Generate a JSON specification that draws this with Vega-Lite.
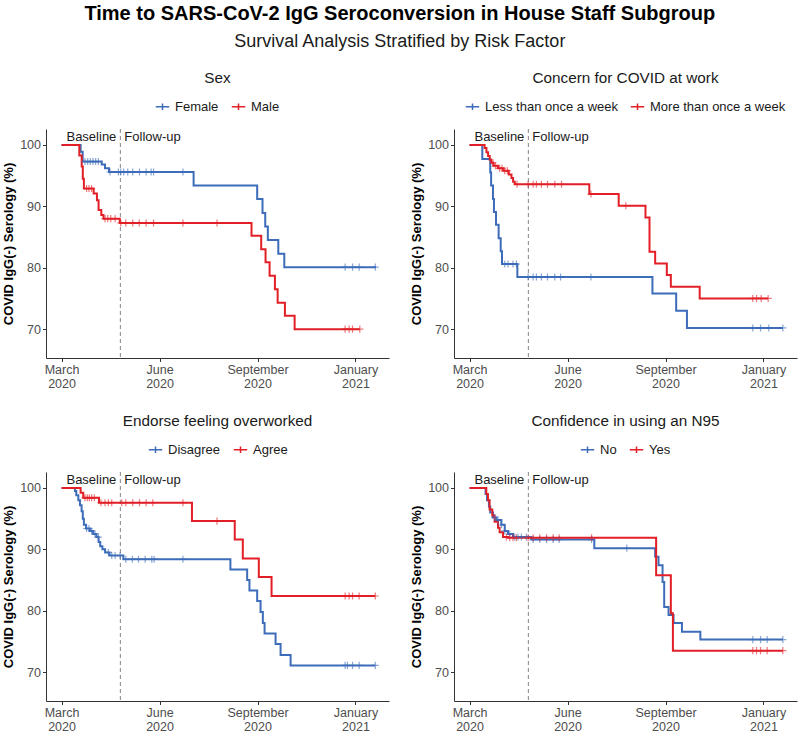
{
  "$schema": "https://vega.github.io/schema/vega-lite/v6.json",
  "background": "white",
  "padding": {"left": 2, "top": 3, "right": 2, "bottom": 0},
  "title": {
    "text": "Time to SARS-CoV-2 IgG Seroconversion in House Staff Subgroup",
    "subtitle": "Survival Analysis Stratified by Risk Factor",
    "anchor": "middle",
    "font": "Liberation Sans",
    "fontSize": 20,
    "fontWeight": "bold",
    "color": "black",
    "subtitleFont": "Liberation Sans",
    "subtitleFontSize": 18,
    "subtitleColor": "#1a1a1a",
    "subtitlePadding": 9,
    "offset": 20
  },
  "datasets": {
    "steps": [
      {"p":1,"g":"Female","d":0,"s":100},{"p":1,"g":"Female","d":17.5,"s":98.9},{"p":1,"g":"Female","d":19.4,"s":97.3},{"p":1,"g":"Female","d":36.9,"s":96.8},{"p":1,"g":"Female","d":39.9,"s":96.2},{"p":1,"g":"Female","d":43.6,"s":95.6},{"p":1,"g":"Female","d":121.3,"s":93.4},{"p":1,"g":"Female","d":179.7,"s":91.2},{"p":1,"g":"Female","d":184.6,"s":88.9},{"p":1,"g":"Female","d":187.1,"s":86.7},{"p":1,"g":"Female","d":189.5,"s":84.5},{"p":1,"g":"Female","d":199.1,"s":82.3},{"p":1,"g":"Female","d":204.6,"s":80.1},{"p":1,"g":"Female","d":288.8,"s":80.1},
      {"p":1,"g":"Male","d":0,"s":100},{"p":1,"g":"Male","d":16.3,"s":98.3},{"p":1,"g":"Male","d":18.5,"s":96.5},{"p":1,"g":"Male","d":19.5,"s":94.5},{"p":1,"g":"Male","d":20.5,"s":92.9},{"p":1,"g":"Male","d":29.5,"s":92.1},{"p":1,"g":"Male","d":32.5,"s":91.0},{"p":1,"g":"Male","d":34,"s":89.4},{"p":1,"g":"Male","d":36.5,"s":88.6},{"p":1,"g":"Male","d":38.5,"s":88.0},{"p":1,"g":"Male","d":53.5,"s":87.3},{"p":1,"g":"Male","d":174.5,"s":85.2},{"p":1,"g":"Male","d":183.4,"s":83.0},{"p":1,"g":"Male","d":187.4,"s":80.9},{"p":1,"g":"Male","d":191.1,"s":78.7},{"p":1,"g":"Male","d":196,"s":76.5},{"p":1,"g":"Male","d":198.5,"s":74.3},{"p":1,"g":"Male","d":205.2,"s":72.2},{"p":1,"g":"Male","d":214.1,"s":70.0},{"p":1,"g":"Male","d":274,"s":70.0},
      {"p":2,"g":"Less than once a week","d":0,"s":100},{"p":2,"g":"Less than once a week","d":11.7,"s":97.7},{"p":2,"g":"Less than once a week","d":19,"s":95.5},{"p":2,"g":"Less than once a week","d":19.8,"s":93.4},{"p":2,"g":"Less than once a week","d":21.5,"s":91.2},{"p":2,"g":"Less than once a week","d":22.4,"s":89.1},{"p":2,"g":"Less than once a week","d":24.3,"s":87.0},{"p":2,"g":"Less than once a week","d":26.7,"s":84.8},{"p":2,"g":"Less than once a week","d":28.6,"s":82.7},{"p":2,"g":"Less than once a week","d":29.8,"s":80.6},{"p":2,"g":"Less than once a week","d":43.9,"s":78.5},{"p":2,"g":"Less than once a week","d":168,"s":75.8},{"p":2,"g":"Less than once a week","d":189.8,"s":73.0},{"p":2,"g":"Less than once a week","d":199.7,"s":70.2},{"p":2,"g":"Less than once a week","d":287.8,"s":70.2},
      {"p":2,"g":"More than once a week","d":0,"s":100},{"p":2,"g":"More than once a week","d":13.8,"s":99.5},{"p":2,"g":"More than once a week","d":15.5,"s":98.8},{"p":2,"g":"More than once a week","d":17,"s":98.2},{"p":2,"g":"More than once a week","d":18.5,"s":97.6},{"p":2,"g":"More than once a week","d":20,"s":97.1},{"p":2,"g":"More than once a week","d":22,"s":96.6},{"p":2,"g":"More than once a week","d":26,"s":96.2},{"p":2,"g":"More than once a week","d":31,"s":95.8},{"p":2,"g":"More than once a week","d":36,"s":95.2},{"p":2,"g":"More than once a week","d":38.5,"s":94.6},{"p":2,"g":"More than once a week","d":40,"s":94.0},{"p":2,"g":"More than once a week","d":41.5,"s":93.6},{"p":2,"g":"More than once a week","d":110,"s":92.0},{"p":2,"g":"More than once a week","d":137,"s":90.1},{"p":2,"g":"More than once a week","d":161.6,"s":88.2},{"p":2,"g":"More than once a week","d":165.3,"s":82.6},{"p":2,"g":"More than once a week","d":170.5,"s":80.7},{"p":2,"g":"More than once a week","d":181.2,"s":78.8},{"p":2,"g":"More than once a week","d":184.9,"s":76.9},{"p":2,"g":"More than once a week","d":211.4,"s":75.0},{"p":2,"g":"More than once a week","d":274.3,"s":75.0},
      {"p":3,"g":"Disagree","d":0,"s":100},{"p":3,"g":"Disagree","d":12.3,"s":99.5},{"p":3,"g":"Disagree","d":13.5,"s":98.8},{"p":3,"g":"Disagree","d":15.4,"s":98.0},{"p":3,"g":"Disagree","d":16.9,"s":97.2},{"p":3,"g":"Disagree","d":18.4,"s":96.2},{"p":3,"g":"Disagree","d":19.5,"s":95.0},{"p":3,"g":"Disagree","d":20.5,"s":94.0},{"p":3,"g":"Disagree","d":22.5,"s":93.4},{"p":3,"g":"Disagree","d":26,"s":93.0},{"p":3,"g":"Disagree","d":29,"s":92.5},{"p":3,"g":"Disagree","d":32,"s":92.0},{"p":3,"g":"Disagree","d":34,"s":91.2},{"p":3,"g":"Disagree","d":35.5,"s":90.5},{"p":3,"g":"Disagree","d":37.5,"s":90.0},{"p":3,"g":"Disagree","d":40,"s":89.5},{"p":3,"g":"Disagree","d":44,"s":89.0},{"p":3,"g":"Disagree","d":56.8,"s":88.4},{"p":3,"g":"Disagree","d":155.1,"s":86.7},{"p":3,"g":"Disagree","d":170.5,"s":85.0},{"p":3,"g":"Disagree","d":172.6,"s":83.3},{"p":3,"g":"Disagree","d":179.7,"s":81.6},{"p":3,"g":"Disagree","d":182.8,"s":79.8},{"p":3,"g":"Disagree","d":184.9,"s":78.0},{"p":3,"g":"Disagree","d":186.5,"s":76.3},{"p":3,"g":"Disagree","d":196.6,"s":74.6},{"p":3,"g":"Disagree","d":201.2,"s":72.8},{"p":3,"g":"Disagree","d":210.4,"s":71.1},{"p":3,"g":"Disagree","d":288.2,"s":71.1},
      {"p":3,"g":"Agree","d":0,"s":100},{"p":3,"g":"Agree","d":17.5,"s":99.2},{"p":3,"g":"Agree","d":19.9,"s":98.4},{"p":3,"g":"Agree","d":34.4,"s":97.6},{"p":3,"g":"Agree","d":119.8,"s":94.6},{"p":3,"g":"Agree","d":159.1,"s":91.6},{"p":3,"g":"Agree","d":166.5,"s":88.5},{"p":3,"g":"Agree","d":181.2,"s":85.5},{"p":3,"g":"Agree","d":192.9,"s":82.4},{"p":3,"g":"Agree","d":288.2,"s":82.4},
      {"p":4,"g":"No","d":0,"s":100},{"p":4,"g":"No","d":14.7,"s":99.0},{"p":4,"g":"No","d":16,"s":98.0},{"p":4,"g":"No","d":17.8,"s":97.0},{"p":4,"g":"No","d":19,"s":96.0},{"p":4,"g":"No","d":21.5,"s":95.2},{"p":4,"g":"No","d":24.6,"s":94.8},{"p":4,"g":"No","d":29.2,"s":94.0},{"p":4,"g":"No","d":32.3,"s":93.0},{"p":4,"g":"No","d":35.3,"s":92.5},{"p":4,"g":"No","d":39.9,"s":92.0},{"p":4,"g":"No","d":56.8,"s":91.6},{"p":4,"g":"No","d":114.6,"s":90.2},{"p":4,"g":"No","d":170.5,"s":88.8},{"p":4,"g":"No","d":173.6,"s":87.4},{"p":4,"g":"No","d":177.3,"s":84.7},{"p":4,"g":"No","d":178.8,"s":80.6},{"p":4,"g":"No","d":182.8,"s":79.3},{"p":4,"g":"No","d":187.4,"s":78.0},{"p":4,"g":"No","d":195.1,"s":76.6},{"p":4,"g":"No","d":212,"s":75.3},{"p":4,"g":"No","d":287.8,"s":75.3},
      {"p":4,"g":"Yes","d":0,"s":100},{"p":4,"g":"Yes","d":15.4,"s":99.0},{"p":4,"g":"Yes","d":16.9,"s":98.0},{"p":4,"g":"Yes","d":18.4,"s":96.5},{"p":4,"g":"Yes","d":20.9,"s":95.5},{"p":4,"g":"Yes","d":23,"s":94.5},{"p":4,"g":"Yes","d":26.1,"s":93.5},{"p":4,"g":"Yes","d":27.6,"s":92.8},{"p":4,"g":"Yes","d":30.7,"s":92.0},{"p":4,"g":"Yes","d":35.3,"s":91.9},{"p":4,"g":"Yes","d":171.4,"s":85.8},{"p":4,"g":"Yes","d":184.9,"s":79.6},{"p":4,"g":"Yes","d":186.8,"s":73.5},{"p":4,"g":"Yes","d":287.8,"s":73.5}
    ],
    "cens": [
      {"p":1,"g":"Female","d":21.5,"s":97.3},{"p":1,"g":"Female","d":24,"s":97.3},{"p":1,"g":"Female","d":26.4,"s":97.3},{"p":1,"g":"Female","d":28.9,"s":97.3},{"p":1,"g":"Female","d":31.3,"s":97.3},{"p":1,"g":"Female","d":33.8,"s":97.3},{"p":1,"g":"Female","d":44.5,"s":95.6},{"p":1,"g":"Female","d":52.2,"s":95.6},{"p":1,"g":"Female","d":54.4,"s":95.6},{"p":1,"g":"Female","d":57.1,"s":95.6},{"p":1,"g":"Female","d":60.8,"s":95.6},{"p":1,"g":"Female","d":65.4,"s":95.6},{"p":1,"g":"Female","d":71.6,"s":95.6},{"p":1,"g":"Female","d":77.7,"s":95.6},{"p":1,"g":"Female","d":82.3,"s":95.6},{"p":1,"g":"Female","d":84.5,"s":95.6},{"p":1,"g":"Female","d":111.5,"s":95.6},{"p":1,"g":"Female","d":260.5,"s":80.1},{"p":1,"g":"Female","d":267.3,"s":80.1},{"p":1,"g":"Female","d":273.4,"s":80.1},{"p":1,"g":"Female","d":288.2,"s":80.1},
      {"p":1,"g":"Male","d":23,"s":92.9},{"p":1,"g":"Male","d":25.2,"s":92.9},{"p":1,"g":"Male","d":27.6,"s":92.9},{"p":1,"g":"Male","d":39.9,"s":88.0},{"p":1,"g":"Male","d":42.4,"s":88.0},{"p":1,"g":"Male","d":45.2,"s":88.0},{"p":1,"g":"Male","d":49.2,"s":88.0},{"p":1,"g":"Male","d":54.4,"s":87.3},{"p":1,"g":"Male","d":59,"s":87.3},{"p":1,"g":"Male","d":65.4,"s":87.3},{"p":1,"g":"Male","d":71.3,"s":87.3},{"p":1,"g":"Male","d":77.7,"s":87.3},{"p":1,"g":"Male","d":84.5,"s":87.3},{"p":1,"g":"Male","d":111.5,"s":87.3},{"p":1,"g":"Male","d":142.8,"s":87.3},{"p":1,"g":"Male","d":260.5,"s":70.0},{"p":1,"g":"Male","d":264.2,"s":70.0},{"p":1,"g":"Male","d":267.3,"s":70.0},{"p":1,"g":"Male","d":274,"s":70.0},
      {"p":2,"g":"Less than once a week","d":32.3,"s":80.6},{"p":2,"g":"Less than once a week","d":35.3,"s":80.6},{"p":2,"g":"Less than once a week","d":39.9,"s":80.6},{"p":2,"g":"Less than once a week","d":43,"s":80.6},{"p":2,"g":"Less than once a week","d":53.8,"s":78.5},{"p":2,"g":"Less than once a week","d":58.4,"s":78.5},{"p":2,"g":"Less than once a week","d":61.4,"s":78.5},{"p":2,"g":"Less than once a week","d":66,"s":78.5},{"p":2,"g":"Less than once a week","d":71.6,"s":78.5},{"p":2,"g":"Less than once a week","d":78.3,"s":78.5},{"p":2,"g":"Less than once a week","d":83.6,"s":78.5},{"p":2,"g":"Less than once a week","d":111.5,"s":78.5},{"p":2,"g":"Less than once a week","d":260.2,"s":70.2},{"p":2,"g":"Less than once a week","d":267.3,"s":70.2},{"p":2,"g":"Less than once a week","d":274.9,"s":70.2},{"p":2,"g":"Less than once a week","d":287.8,"s":70.2},
      {"p":2,"g":"More than once a week","d":21.5,"s":97.1},{"p":2,"g":"More than once a week","d":23.7,"s":96.6},{"p":2,"g":"More than once a week","d":27.6,"s":96.2},{"p":2,"g":"More than once a week","d":29.8,"s":96.2},{"p":2,"g":"More than once a week","d":32.3,"s":95.8},{"p":2,"g":"More than once a week","d":34.7,"s":95.8},{"p":2,"g":"More than once a week","d":43.6,"s":93.6},{"p":2,"g":"More than once a week","d":53.8,"s":93.6},{"p":2,"g":"More than once a week","d":58.4,"s":93.6},{"p":2,"g":"More than once a week","d":61.4,"s":93.6},{"p":2,"g":"More than once a week","d":66,"s":93.6},{"p":2,"g":"More than once a week","d":71.6,"s":93.6},{"p":2,"g":"More than once a week","d":78.3,"s":93.6},{"p":2,"g":"More than once a week","d":84.5,"s":93.6},{"p":2,"g":"More than once a week","d":111.5,"s":92.0},{"p":2,"g":"More than once a week","d":143.5,"s":90.1},{"p":2,"g":"More than once a week","d":260.2,"s":75.0},{"p":2,"g":"More than once a week","d":263.6,"s":75.0},{"p":2,"g":"More than once a week","d":267.9,"s":75.0},{"p":2,"g":"More than once a week","d":274.3,"s":75.0},
      {"p":3,"g":"Disagree","d":23,"s":93.4},{"p":3,"g":"Disagree","d":25.2,"s":93.4},{"p":3,"g":"Disagree","d":27.6,"s":93.0},{"p":3,"g":"Disagree","d":30.7,"s":92.5},{"p":3,"g":"Disagree","d":33.8,"s":92.0},{"p":3,"g":"Disagree","d":43,"s":89.5},{"p":3,"g":"Disagree","d":46.1,"s":89.0},{"p":3,"g":"Disagree","d":49.2,"s":89.0},{"p":3,"g":"Disagree","d":53.8,"s":89.0},{"p":3,"g":"Disagree","d":59,"s":88.4},{"p":3,"g":"Disagree","d":65.1,"s":88.4},{"p":3,"g":"Disagree","d":70.7,"s":88.4},{"p":3,"g":"Disagree","d":76.8,"s":88.4},{"p":3,"g":"Disagree","d":82.9,"s":88.4},{"p":3,"g":"Disagree","d":85,"s":88.4},{"p":3,"g":"Disagree","d":111.5,"s":88.4},{"p":3,"g":"Disagree","d":260.5,"s":71.1},{"p":3,"g":"Disagree","d":262.6,"s":71.1},{"p":3,"g":"Disagree","d":267.3,"s":71.1},{"p":3,"g":"Disagree","d":273.4,"s":71.1},{"p":3,"g":"Disagree","d":288.2,"s":71.1},
      {"p":3,"g":"Agree","d":21.5,"s":98.4},{"p":3,"g":"Agree","d":23.7,"s":98.4},{"p":3,"g":"Agree","d":25.5,"s":98.4},{"p":3,"g":"Agree","d":27.6,"s":98.4},{"p":3,"g":"Agree","d":30.1,"s":98.4},{"p":3,"g":"Agree","d":36.2,"s":97.6},{"p":3,"g":"Agree","d":39.9,"s":97.6},{"p":3,"g":"Agree","d":43,"s":97.6},{"p":3,"g":"Agree","d":46.1,"s":97.6},{"p":3,"g":"Agree","d":55.3,"s":97.6},{"p":3,"g":"Agree","d":59,"s":97.6},{"p":3,"g":"Agree","d":65.4,"s":97.6},{"p":3,"g":"Agree","d":71.6,"s":97.6},{"p":3,"g":"Agree","d":77.7,"s":97.6},{"p":3,"g":"Agree","d":83.8,"s":97.6},{"p":3,"g":"Agree","d":111.5,"s":97.6},{"p":3,"g":"Agree","d":142.8,"s":94.6},{"p":3,"g":"Agree","d":260.5,"s":82.4},{"p":3,"g":"Agree","d":264.2,"s":82.4},{"p":3,"g":"Agree","d":267.3,"s":82.4},{"p":3,"g":"Agree","d":273.4,"s":82.4},{"p":3,"g":"Agree","d":288.2,"s":82.4},
      {"p":4,"g":"No","d":23,"s":95.2},{"p":4,"g":"No","d":26.1,"s":94.8},{"p":4,"g":"No","d":29.2,"s":94.0},{"p":4,"g":"No","d":32.3,"s":93.0},{"p":4,"g":"No","d":36.9,"s":92.5},{"p":4,"g":"No","d":41.5,"s":92.0},{"p":4,"g":"No","d":44.5,"s":92.0},{"p":4,"g":"No","d":47.6,"s":92.0},{"p":4,"g":"No","d":52.2,"s":92.0},{"p":4,"g":"No","d":58.4,"s":91.6},{"p":4,"g":"No","d":64.5,"s":91.6},{"p":4,"g":"No","d":70.7,"s":91.6},{"p":4,"g":"No","d":76.8,"s":91.6},{"p":4,"g":"No","d":82.3,"s":91.6},{"p":4,"g":"No","d":112.1,"s":91.6},{"p":4,"g":"No","d":144.4,"s":90.2},{"p":4,"g":"No","d":260.2,"s":75.3},{"p":4,"g":"No","d":267.3,"s":75.3},{"p":4,"g":"No","d":273.4,"s":75.3},{"p":4,"g":"No","d":287.8,"s":75.3},
      {"p":4,"g":"Yes","d":33.8,"s":92.0},{"p":4,"g":"Yes","d":36.9,"s":91.9},{"p":4,"g":"Yes","d":39.9,"s":91.9},{"p":4,"g":"Yes","d":43,"s":91.9},{"p":4,"g":"Yes","d":53.8,"s":91.9},{"p":4,"g":"Yes","d":58.4,"s":91.9},{"p":4,"g":"Yes","d":64.5,"s":91.9},{"p":4,"g":"Yes","d":70.7,"s":91.9},{"p":4,"g":"Yes","d":76.8,"s":91.9},{"p":4,"g":"Yes","d":82.3,"s":91.9},{"p":4,"g":"Yes","d":112.1,"s":91.9},{"p":4,"g":"Yes","d":260.2,"s":73.5},{"p":4,"g":"Yes","d":263.6,"s":73.5},{"p":4,"g":"Yes","d":267.3,"s":73.5},{"p":4,"g":"Yes","d":273.4,"s":73.5},{"p":4,"g":"Yes","d":287.8,"s":73.5}
    ],
    "ref": [{"d": 54, "s": 101.3}]
  },
  "config": {
    "view": {"stroke": null},
    "font": "Liberation Sans",
    "axis": {
      "grid": false,
      "domainColor": "#333333",
      "domainWidth": 1,
      "tickColor": "#333333",
      "tickSize": 3.5,
      "labelPadding": 2,
      "labelColor": "#4d4d4d",
      "labelFont": "Liberation Sans",
      "labelFontSize": 12.5,
      "titleFont": "Liberation Sans",
      "titleFontSize": 13,
      "titleFontWeight": "bold",
      "titleColor": "black"
    },
    "legend": {
      "orient": "top",
      "direction": "horizontal",
      "labelFont": "Liberation Sans",
      "labelFontSize": 13,
      "labelColor": "#1a1a1a",
      "symbolType": "M-1,0H1M0,-0.5V0.5",
      "symbolSize": 180,
      "symbolStrokeWidth": 1.5,
      "symbolFillColor": "transparent",
      "columnPadding": 9,
      "labelOffset": 5,
      "offset": 15,
      "padding": 0,
      "layout": {"top": {"anchor": "middle"}}
    },
    "title": {"font": "Liberation Sans", "fontSize": 15.3, "fontWeight": "normal", "color": "#1a1a1a", "anchor": "middle", "offset": 13}
  },
  "resolve": {"scale": {"color": "independent"}},
  "spacing": 23,
  "vconcat": [
    {
      "resolve": {"scale": {"color": "independent"}},
      "spacing": 21,
      "hconcat": [
        {
          "width": 343, "height": 229,
          "title": {"text": "Sex"},
          "layer": [
            {"data": {"name": "ref"}, "mark": {"type": "rule", "strokeDash": [4, 3], "color": "#858585", "strokeWidth": 1},
             "encoding": {"x": {"field": "d", "type": "quantitative", "scale": {"domain": [-14.3, 300.8], "nice": false, "zero": false}}}},
            {"data": {"name": "steps"}, "transform": [{"filter": "datum.p == 1"}],
             "mark": {"type": "line", "interpolate": "step-after", "strokeWidth": 2},
             "encoding": {
               "x": {"field": "d", "type": "quantitative", "title": null, "scale": {"domain": [-14.3, 300.8], "nice": false, "zero": false},
                     "axis": {"values": [0, 90, 180, 270], "labelLineHeight": 13.5, "labelExpr": "datum.value == 0 ? ['March','2020'] : datum.value == 90 ? ['June','2020'] : datum.value == 180 ? ['September','2020'] : ['January','2021']"}},
               "y": {"field": "s", "type": "quantitative", "title": "COVID IgG(-) Serology (%)", "scale": {"domain": [65.3, 102.6], "nice": false, "zero": false}, "axis": {"values": [70, 80, 90, 100], "titlePadding": 4}},
               "color": {"field": "g", "type": "nominal", "scale": {"domain": ["Female", "Male"], "range": ["#3d6cb9", "#e21f26"]}, "legend": {"title": null}}
             }},
            {"data": {"name": "cens"}, "transform": [{"filter": "datum.p == 1"}],
             "mark": {"type": "point", "shape": "M0,-1V1M-1,0H1", "filled": false, "size": 50, "strokeWidth": 1.2, "opacity": 0.6},
             "encoding": {
               "x": {"field": "d", "type": "quantitative"},
               "y": {"field": "s", "type": "quantitative"},
               "color": {"field": "g", "type": "nominal", "legend": null}
             }},
            {"data": {"name": "ref"}, "mark": {"type": "text", "text": "Baseline", "align": "right", "baseline": "middle", "dx": -4, "fontSize": 13, "color": "#1a1a1a"},
             "encoding": {"x": {"field": "d", "type": "quantitative"}, "y": {"field": "s", "type": "quantitative"}}},
            {"data": {"name": "ref"}, "mark": {"type": "text", "text": "Follow-up", "align": "left", "baseline": "middle", "dx": 4, "fontSize": 13, "color": "#1a1a1a"},
             "encoding": {"x": {"field": "d", "type": "quantitative"}, "y": {"field": "s", "type": "quantitative"}}}
          ]
        },
        {
          "width": 343, "height": 229,
          "title": {"text": "Concern for COVID at work"},
          "layer": [
            {"data": {"name": "ref"}, "mark": {"type": "rule", "strokeDash": [4, 3], "color": "#858585", "strokeWidth": 1},
             "encoding": {"x": {"field": "d", "type": "quantitative", "scale": {"domain": [-14.3, 300.8], "nice": false, "zero": false}}}},
            {"data": {"name": "steps"}, "transform": [{"filter": "datum.p == 2"}],
             "mark": {"type": "line", "interpolate": "step-after", "strokeWidth": 2},
             "encoding": {
               "x": {"field": "d", "type": "quantitative", "title": null, "scale": {"domain": [-14.3, 300.8], "nice": false, "zero": false},
                     "axis": {"values": [0, 90, 180, 270], "labelLineHeight": 13.5, "labelExpr": "datum.value == 0 ? ['March','2020'] : datum.value == 90 ? ['June','2020'] : datum.value == 180 ? ['September','2020'] : ['January','2021']"}},
               "y": {"field": "s", "type": "quantitative", "title": "COVID IgG(-) Serology (%)", "scale": {"domain": [65.3, 102.6], "nice": false, "zero": false}, "axis": {"values": [70, 80, 90, 100], "titlePadding": 4}},
               "color": {"field": "g", "type": "nominal", "scale": {"domain": ["Less than once a week", "More than once a week"], "range": ["#3d6cb9", "#e21f26"]}, "legend": {"title": null}}
             }},
            {"data": {"name": "cens"}, "transform": [{"filter": "datum.p == 2"}],
             "mark": {"type": "point", "shape": "M0,-1V1M-1,0H1", "filled": false, "size": 50, "strokeWidth": 1.2, "opacity": 0.6},
             "encoding": {
               "x": {"field": "d", "type": "quantitative"},
               "y": {"field": "s", "type": "quantitative"},
               "color": {"field": "g", "type": "nominal", "legend": null}
             }},
            {"data": {"name": "ref"}, "mark": {"type": "text", "text": "Baseline", "align": "right", "baseline": "middle", "dx": -4, "fontSize": 13, "color": "#1a1a1a"},
             "encoding": {"x": {"field": "d", "type": "quantitative"}, "y": {"field": "s", "type": "quantitative"}}},
            {"data": {"name": "ref"}, "mark": {"type": "text", "text": "Follow-up", "align": "left", "baseline": "middle", "dx": 4, "fontSize": 13, "color": "#1a1a1a"},
             "encoding": {"x": {"field": "d", "type": "quantitative"}, "y": {"field": "s", "type": "quantitative"}}}
          ]
        }
      ]
    },
    {
      "resolve": {"scale": {"color": "independent"}},
      "spacing": 21,
      "hconcat": [
        {
          "width": 343, "height": 229,
          "title": {"text": "Endorse feeling overworked"},
          "layer": [
            {"data": {"name": "ref"}, "mark": {"type": "rule", "strokeDash": [4, 3], "color": "#858585", "strokeWidth": 1},
             "encoding": {"x": {"field": "d", "type": "quantitative", "scale": {"domain": [-14.3, 300.8], "nice": false, "zero": false}}}},
            {"data": {"name": "steps"}, "transform": [{"filter": "datum.p == 3"}],
             "mark": {"type": "line", "interpolate": "step-after", "strokeWidth": 2},
             "encoding": {
               "x": {"field": "d", "type": "quantitative", "title": null, "scale": {"domain": [-14.3, 300.8], "nice": false, "zero": false},
                     "axis": {"values": [0, 90, 180, 270], "labelLineHeight": 13.5, "labelExpr": "datum.value == 0 ? ['March','2020'] : datum.value == 90 ? ['June','2020'] : datum.value == 180 ? ['September','2020'] : ['January','2021']"}},
               "y": {"field": "s", "type": "quantitative", "title": "COVID IgG(-) Serology (%)", "scale": {"domain": [65.3, 102.6], "nice": false, "zero": false}, "axis": {"values": [70, 80, 90, 100], "titlePadding": 4}},
               "color": {"field": "g", "type": "nominal", "scale": {"domain": ["Disagree", "Agree"], "range": ["#3d6cb9", "#e21f26"]}, "legend": {"title": null}}
             }},
            {"data": {"name": "cens"}, "transform": [{"filter": "datum.p == 3"}],
             "mark": {"type": "point", "shape": "M0,-1V1M-1,0H1", "filled": false, "size": 50, "strokeWidth": 1.2, "opacity": 0.6},
             "encoding": {
               "x": {"field": "d", "type": "quantitative"},
               "y": {"field": "s", "type": "quantitative"},
               "color": {"field": "g", "type": "nominal", "legend": null}
             }},
            {"data": {"name": "ref"}, "mark": {"type": "text", "text": "Baseline", "align": "right", "baseline": "middle", "dx": -4, "fontSize": 13, "color": "#1a1a1a"},
             "encoding": {"x": {"field": "d", "type": "quantitative"}, "y": {"field": "s", "type": "quantitative"}}},
            {"data": {"name": "ref"}, "mark": {"type": "text", "text": "Follow-up", "align": "left", "baseline": "middle", "dx": 4, "fontSize": 13, "color": "#1a1a1a"},
             "encoding": {"x": {"field": "d", "type": "quantitative"}, "y": {"field": "s", "type": "quantitative"}}}
          ]
        },
        {
          "width": 343, "height": 229,
          "title": {"text": "Confidence in using an N95"},
          "layer": [
            {"data": {"name": "ref"}, "mark": {"type": "rule", "strokeDash": [4, 3], "color": "#858585", "strokeWidth": 1},
             "encoding": {"x": {"field": "d", "type": "quantitative", "scale": {"domain": [-14.3, 300.8], "nice": false, "zero": false}}}},
            {"data": {"name": "steps"}, "transform": [{"filter": "datum.p == 4"}],
             "mark": {"type": "line", "interpolate": "step-after", "strokeWidth": 2},
             "encoding": {
               "x": {"field": "d", "type": "quantitative", "title": null, "scale": {"domain": [-14.3, 300.8], "nice": false, "zero": false},
                     "axis": {"values": [0, 90, 180, 270], "labelLineHeight": 13.5, "labelExpr": "datum.value == 0 ? ['March','2020'] : datum.value == 90 ? ['June','2020'] : datum.value == 180 ? ['September','2020'] : ['January','2021']"}},
               "y": {"field": "s", "type": "quantitative", "title": "COVID IgG(-) Serology (%)", "scale": {"domain": [65.3, 102.6], "nice": false, "zero": false}, "axis": {"values": [70, 80, 90, 100], "titlePadding": 4}},
               "color": {"field": "g", "type": "nominal", "scale": {"domain": ["No", "Yes"], "range": ["#3d6cb9", "#e21f26"]}, "legend": {"title": null}}
             }},
            {"data": {"name": "cens"}, "transform": [{"filter": "datum.p == 4"}],
             "mark": {"type": "point", "shape": "M0,-1V1M-1,0H1", "filled": false, "size": 50, "strokeWidth": 1.2, "opacity": 0.6},
             "encoding": {
               "x": {"field": "d", "type": "quantitative"},
               "y": {"field": "s", "type": "quantitative"},
               "color": {"field": "g", "type": "nominal", "legend": null}
             }},
            {"data": {"name": "ref"}, "mark": {"type": "text", "text": "Baseline", "align": "right", "baseline": "middle", "dx": -4, "fontSize": 13, "color": "#1a1a1a"},
             "encoding": {"x": {"field": "d", "type": "quantitative"}, "y": {"field": "s", "type": "quantitative"}}},
            {"data": {"name": "ref"}, "mark": {"type": "text", "text": "Follow-up", "align": "left", "baseline": "middle", "dx": 4, "fontSize": 13, "color": "#1a1a1a"},
             "encoding": {"x": {"field": "d", "type": "quantitative"}, "y": {"field": "s", "type": "quantitative"}}}
          ]
        }
      ]
    }
  ]
}
